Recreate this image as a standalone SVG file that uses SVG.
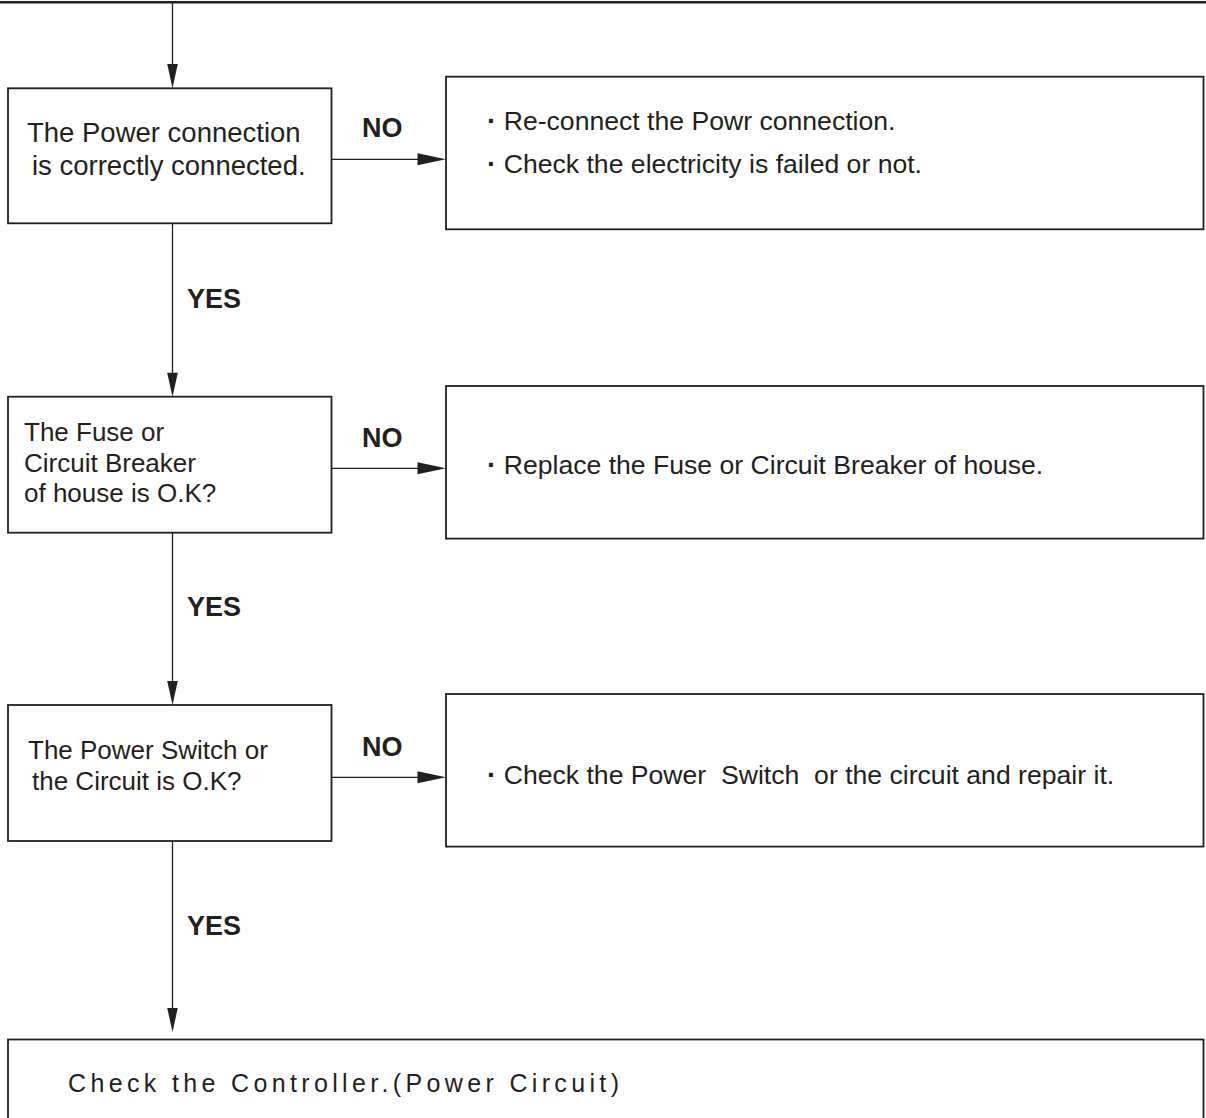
<svg xmlns="http://www.w3.org/2000/svg" width="1206" height="1118" viewBox="0 0 1206 1118">
<style>
.box{fill:#fff;stroke:#231f20;stroke-width:1.8}
.ln{fill:none;stroke:#231f20;stroke-width:1.3}
.t{font-family:"Liberation Sans",Arial,sans-serif;font-size:26px;fill:#231f20;white-space:pre}
.r{font-size:26.6px}
.d{font-weight:bold;font-size:28px}
.b{font-family:"Liberation Sans",Arial,sans-serif;font-size:27px;font-weight:bold;fill:#231f20}
.ah{fill:#231f20}
</style>
<rect width="1206" height="1118" fill="#fff"/>
<line x1="0" y1="2.2" x2="1206" y2="2.2" stroke="#231f20" stroke-width="2.6"/>
<g id="q1">
<rect class="box" x="8" y="88.3" width="323.5" height="135"/>
<text class="t" xml:space="preserve" style="font-size:27.5px"><tspan x="27" y="141.7">The Power connection</tspan><tspan x="32" y="175">is correctly connected.</tspan></text>
</g>
<g id="a1">
<rect class="box" x="446" y="76.7" width="757.5" height="152.6"/>
<text class="t r" xml:space="preserve"><tspan x="487" y="130"><tspan class="d">·</tspan> Re-connect the Powr connection.</tspan><tspan x="487" y="173.3"><tspan class="d">·</tspan> Check the electricity is failed or not.</tspan></text>
</g>
<g id="q2">
<rect class="box" x="8" y="396.7" width="323.5" height="136"/>
<text class="t" xml:space="preserve"><tspan x="24" y="441">The Fuse or</tspan><tspan x="24" y="471.5">Circuit Breaker</tspan><tspan x="24" y="501.5">of house is O.K?</tspan></text>
</g>
<g id="a2">
<rect class="box" x="446" y="386" width="757.5" height="152.6"/>
<text class="t r" xml:space="preserve" x="487" y="474"><tspan class="d">·</tspan> Replace the Fuse or Circuit Breaker of house.</text>
</g>
<g id="q3">
<rect class="box" x="8" y="705" width="323.5" height="136"/>
<text class="t" xml:space="preserve"><tspan x="28" y="759">The Power Switch or</tspan><tspan x="32" y="790">the Circuit is O.K?</tspan></text>
</g>
<g id="a3">
<rect class="box" x="446" y="694" width="757.5" height="152.6"/>
<text class="t r" xml:space="preserve" x="487" y="784"><tspan class="d">·</tspan> Check the Power  Switch  or the circuit and repair it.</text>
</g>
<g id="end">
<rect class="box" x="8" y="1039.5" width="1195.5" height="100"/>
<text class="t" x="68" y="1092" style="font-size:25px;letter-spacing:4.35px">Check the Controller.(Power Circuit)</text>
</g>
<g id="connectors">
<line class="ln" x1="172.5" y1="3" x2="172.5" y2="66"/>
<polygon class="ah" points="167.2,64 177.8,64 172.5,88.3"/>
<line class="ln" x1="172.5" y1="223.3" x2="172.5" y2="374"/>
<polygon class="ah" points="167.2,372.7 177.8,372.7 172.5,396.7"/>
<line class="ln" x1="172.5" y1="532.7" x2="172.5" y2="683"/>
<polygon class="ah" points="167.2,681 177.8,681 172.5,705"/>
<line class="ln" x1="172.5" y1="841" x2="172.5" y2="1010"/>
<polygon class="ah" points="167.2,1008 177.8,1008 172.5,1032"/>
<line class="ln" x1="331.5" y1="159.3" x2="420" y2="159.3"/>
<polygon class="ah" points="417.5,153.3 417.5,165.3 446,159.3"/>
<line class="ln" x1="331.5" y1="468.3" x2="420" y2="468.3"/>
<polygon class="ah" points="417.5,462.3 417.5,474.3 446,468.3"/>
<line class="ln" x1="331.5" y1="777.3" x2="420" y2="777.3"/>
<polygon class="ah" points="417.5,771.3 417.5,783.3 446,777.3"/>
<text class="b" x="362" y="137">NO</text>
<text class="b" x="362" y="447">NO</text>
<text class="b" x="362" y="756">NO</text>
<text class="b" x="187" y="308">YES</text>
<text class="b" x="187" y="616">YES</text>
<text class="b" x="187" y="935">YES</text>
</g>
</svg>
